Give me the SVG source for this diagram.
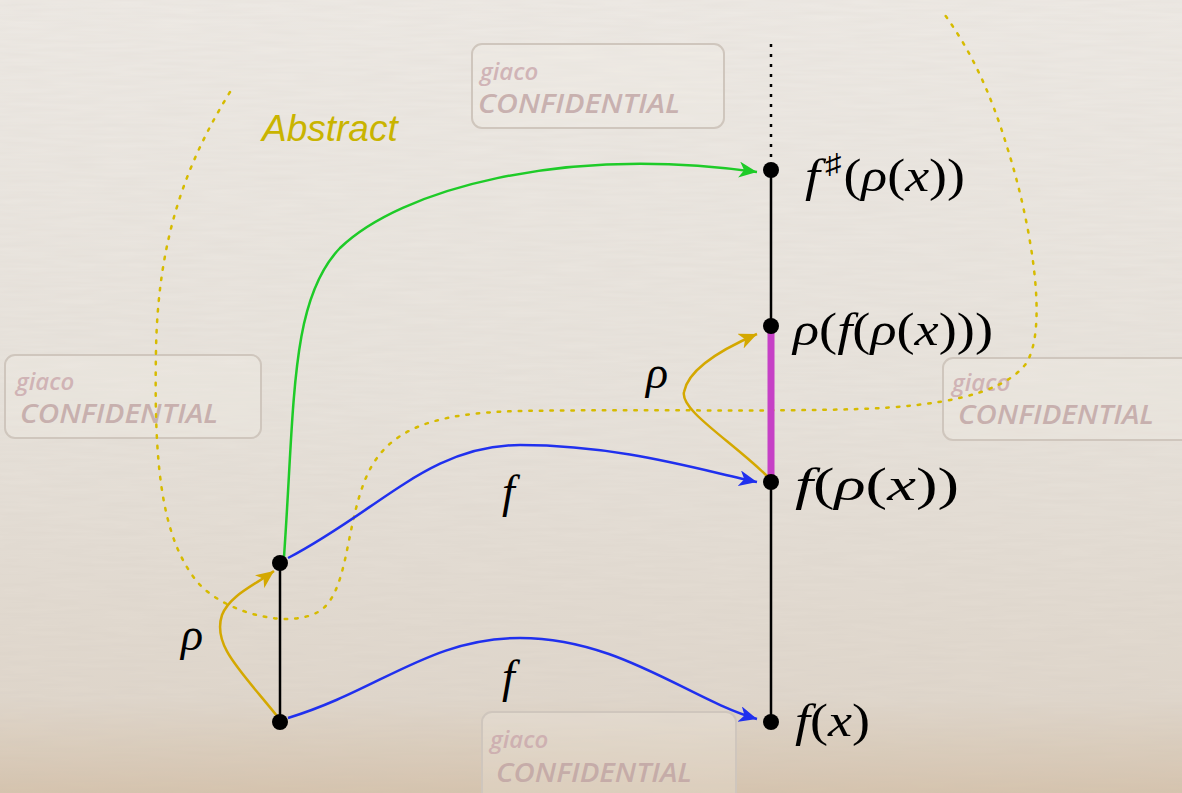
<svg xmlns="http://www.w3.org/2000/svg" width="1182" height="793" viewBox="0 0 1182 793">
  <style>
    .math { font-size: 46px; fill: #000; }
    .it { font-style: italic; }
    .wm-box { fill: #f3efe9; fill-opacity: 0.25; stroke: #cfc6bd; stroke-width: 2; }
    .wm-g { font-style: italic; font-weight: 600; font-size: 24px; fill: #c9a6ab; fill-opacity: 0.8; }
    .wm-c { font-style: italic; font-weight: 600; font-size: 27px; fill: #bfa2a2; fill-opacity: 0.8; }
    .dot { fill: #000; }
    .blue { fill: none; stroke: #2030ee; stroke-width: 2.5; }
    .green { fill: none; stroke: #1ecb28; stroke-width: 2.5; }
    .gold { fill: none; stroke: #d4a800; stroke-width: 2.5; }
    .dotted { fill: none; stroke: #d6bb00; stroke-width: 2.5; stroke-dasharray: 2.5 8; stroke-linecap: round; }
  </style>
  <defs>
    <linearGradient id="bg" x1="0" y1="0" x2="0" y2="1">
      <stop offset="0" stop-color="#eeeae5"/>
      <stop offset="0.5" stop-color="#e8e3dc"/>
      <stop offset="0.88" stop-color="#e0d7cc"/>
      <stop offset="1" stop-color="#d6c4ae"/>
    </linearGradient>
    <filter id="noise" x="0" y="0" width="100%" height="100%">
      <feTurbulence type="fractalNoise" baseFrequency="0.02 0.25" numOctaves="2" seed="3"/>
      <feColorMatrix type="matrix" values="0 0 0 0 0.55  0 0 0 0 0.5  0 0 0 0 0.45  0 0 0 0.14 0"/>
    </filter>
    <marker id="ah-blue" markerWidth="20" markerHeight="16" refX="18" refY="8" orient="auto" markerUnits="userSpaceOnUse">
      <path d="M0,0 L18,8 L0,16 L5,8 Z" fill="#2030ee"/>
    </marker>
    <marker id="ah-green" markerWidth="20" markerHeight="16" refX="18" refY="8" orient="auto" markerUnits="userSpaceOnUse">
      <path d="M0,0 L18,8 L0,16 L5,8 Z" fill="#1ecb28"/>
    </marker>
    <marker id="ah-gold" markerWidth="20" markerHeight="16" refX="18" refY="8" orient="auto" markerUnits="userSpaceOnUse">
      <path d="M0,0 L18,8 L0,16 L5,8 Z" fill="#d4a800"/>
    </marker>
  </defs>

  <rect x="0" y="0" width="1182" height="793" fill="url(#bg)"/>
  <rect x="0" y="0" width="1182" height="793" filter="url(#noise)"/>

  <g id="watermarks" font-family="Open Sans, DejaVu Sans, sans-serif">
    <g id="wm1">
      <rect class="wm-box" x="472" y="44" width="252" height="84" rx="10"/>
      <text class="wm-g" x="480" y="80">giaco</text>
      <text class="wm-c" x="478" y="113" textLength="202" lengthAdjust="spacingAndGlyphs">CONFIDENTIAL</text>
    </g>
    <g id="wm2">
      <rect class="wm-box" x="5" y="355" width="256" height="83" rx="10"/>
      <text class="wm-g" x="16" y="390">giaco</text>
      <text class="wm-c" x="20" y="423" textLength="198" lengthAdjust="spacingAndGlyphs">CONFIDENTIAL</text>
    </g>
    <g id="wm3">
      <rect class="wm-box" x="943" y="358" width="250" height="82" rx="10"/>
      <text class="wm-g" x="952" y="391">giaco</text>
      <text class="wm-c" x="958" y="424" textLength="196" lengthAdjust="spacingAndGlyphs">CONFIDENTIAL</text>
    </g>
    <g id="wm4">
      <rect class="wm-box" x="482" y="712" width="254" height="90" rx="10"/>
      <text class="wm-g" x="490" y="748">giaco</text>
      <text class="wm-c" x="496" y="782" textLength="196" lengthAdjust="spacingAndGlyphs">CONFIDENTIAL</text>
    </g>
  </g>

  <g id="abstract-region">
    <path class="dotted" d="M230,92 C 185,165 158,240 156,350 C 154,460 160,540 200,585 C 230,615 290,628 318,612 C 348,595 345,530 365,480 C 385,430 430,413 520,411 C 640,409 760,412 860,409 C 940,406 1000,395 1025,365 C 1050,330 1030,220 1008,150 C 990,90 970,50 945,15"/>
    <text x="262" y="141" font-family="Liberation Sans, Arial, sans-serif" font-style="italic" font-size="37" fill="#c9b400">Abstract</text>
  </g>

  <g id="connectors">
    <line x1="280" y1="563" x2="280" y2="722" stroke="#000" stroke-width="2.5"/>
    <line x1="771" y1="44" x2="771" y2="165" stroke="#000" stroke-width="2.5" stroke-dasharray="3 7"/>
    <line x1="771" y1="170" x2="771" y2="722" stroke="#000" stroke-width="2.5"/>
    <line x1="771" y1="330" x2="771" y2="478" stroke="#c640c6" stroke-width="7"/>
    <path class="green" d="M284,557 C 295,400 290,300 340,248 C 400,190 560,145 757,172" marker-end="url(#ah-green)"/>
    <path class="blue" d="M288,558 C 380,510 430,445 520,445 C 620,445 700,470 757,482" marker-end="url(#ah-blue)"/>
    <path class="blue" d="M288,718 C 380,690 430,638 520,638 C 620,638 690,700 757,719" marker-end="url(#ah-blue)"/>
    <path class="gold" d="M277,716 C 240,670 212,645 222,615 C 230,595 255,585 274,571" marker-end="url(#ah-gold)"/>
    <path class="gold" d="M767,476 C 730,440 680,410 684,392 C 688,370 720,350 757,334" marker-end="url(#ah-gold)"/>
  </g>

  <g id="nodes" font-family="Liberation Serif, Times New Roman, serif">
    <g id="node-x">
      <circle class="dot" cx="280" cy="722" r="8"/>
    </g>
    <g id="node-rho-x">
      <circle class="dot" cx="280" cy="563" r="8"/>
    </g>
    <g id="node-fsharp">
      <circle class="dot" cx="771" cy="170" r="8"/>
      <text class="math" x="805" y="191" textLength="160" lengthAdjust="spacingAndGlyphs"><tspan class="it">f</tspan><tspan font-size="28" dx="4" dy="-18">♯</tspan><tspan dx="2" dy="18">(</tspan><tspan class="it">ρ</tspan>(<tspan class="it">x</tspan>))</text>
    </g>
    <g id="node-rho-f-rho">
      <circle class="dot" cx="771" cy="326" r="8"/>
      <text class="math" x="793" y="345" textLength="200" lengthAdjust="spacingAndGlyphs"><tspan class="it">ρ</tspan>(<tspan class="it">f</tspan>(<tspan class="it">ρ</tspan>(<tspan class="it">x</tspan>)))</text>
    </g>
    <g id="node-f-rho">
      <circle class="dot" cx="771" cy="482" r="8"/>
      <text class="math" x="795" y="500" textLength="164" lengthAdjust="spacingAndGlyphs"><tspan class="it">f</tspan>(<tspan class="it">ρ</tspan>(<tspan class="it">x</tspan>))</text>
    </g>
    <g id="node-fx">
      <circle class="dot" cx="771" cy="722" r="8"/>
      <text class="math" x="795" y="736" font-size="40" textLength="75" lengthAdjust="spacingAndGlyphs"><tspan class="it">f</tspan>(<tspan class="it">x</tspan>)</text>
    </g>
  </g>

  <g id="edge-labels" font-family="Liberation Serif, Times New Roman, serif">
    <text class="math it" x="181" y="650">ρ</text>
    <text class="math it" x="646" y="388">ρ</text>
    <text class="math it" x="502" y="507">f</text>
    <text class="math it" x="502" y="692">f</text>
  </g>
</svg>
